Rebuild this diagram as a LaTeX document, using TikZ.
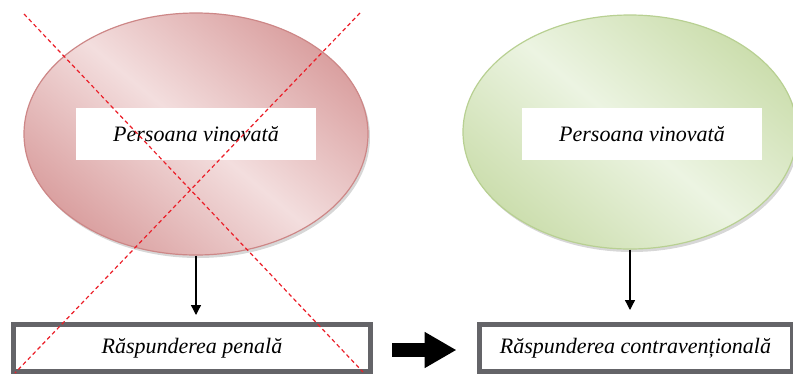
\documentclass[tikz,border=0pt]{standalone}
\usepackage{fontspec}
\setmainfont{Liberation Serif}
\usetikzlibrary{shapes.geometric,arrows.meta,calc}
\definecolor{redlight}{RGB}{243,222,222}
\definecolor{reddark}{RGB}{218,160,160}
\definecolor{rededge}{RGB}{205,135,135}
\definecolor{greenlight}{RGB}{236,244,226}
\definecolor{greendark}{RGB}{204,222,174}
\definecolor{greenedge}{RGB}{184,208,146}
\definecolor{boxgray}{RGB}{100,100,104}
\definecolor{crossred}{RGB}{235,30,40}
\tikzset{
  oval/.style={ellipse, inner sep=0pt, line width=1.2pt},
  ovalshadow/.style={ellipse, inner sep=0pt, fill=black!45, opacity=0.35},
  label/.style={fill=white, minimum width=240pt, minimum height=52pt, inner sep=0pt,
                font=\fontsize{22}{26}\selectfont\itshape},
  resp/.style={draw=boxgray, line width=5pt, fill=white, inner sep=0pt,
               font=\fontsize{22}{26}\selectfont\itshape},
  down/.style={-{Triangle[width=10pt,length=10pt]}, line width=1.3pt},
  bigarrow/.style={-{Triangle[width=34pt,length=32pt]}, line width=14pt},
  cross/.style={crossred, line width=1.2pt, dash pattern=on 4pt off 3pt}
}
\begin{document}
\begin{tikzpicture}[x=1pt,y=-1pt]
\useasboundingbox (0,0) rectangle (793,376);
% shadows
\node[ovalshadow, minimum width=344pt, minimum height=242pt] at (198,137) {};
\node[ovalshadow, minimum width=334pt, minimum height=234pt] at (632,135) {};
% ellipses
\node[oval, draw=rededge, minimum width=344pt, minimum height=242pt,
      top color=reddark, bottom color=reddark, middle color=redlight, shading angle=-40]
      (e1) at (196,134) {};
\node[oval, draw=greenedge, minimum width=334pt, minimum height=234pt,
      top color=greendark, bottom color=greendark, middle color=greenlight, shading angle=-40]
      (e2) at (630,132) {};
% labels in ellipses
\node[label] (t1) at (196,134) {Persoana vinovată};
\node[label] (t2) at (642,134) {Persoana vinovată};
% bottom boxes
\node[resp, minimum width=357pt, minimum height=47pt] (b1) at (192,348) {Răspunderea penală};
\node[resp, minimum width=313pt, minimum height=47pt] (b2) at (635.5,348) {Răspunderea contravențională};
% arrows
\draw[down, shorten >=7pt] (e1.south) -- (e1.south |- b1.north);
\draw[down, shorten >=12pt] (e2.south) -- (e2.south |- b2.north);
\draw[bigarrow] ($(b1.east)+(19,2)$) -- ($(b2.west)+(-20,2)$);
% red cross
\coordinate (c1) at (24,14);
\coordinate (c2) at (363,372);
\coordinate (c3) at (360,13);
\coordinate (c4) at (15,373);
\draw[cross] (c1) -- (c2);
\draw[cross] (c3) -- (c4);
\end{tikzpicture}
\end{document}
